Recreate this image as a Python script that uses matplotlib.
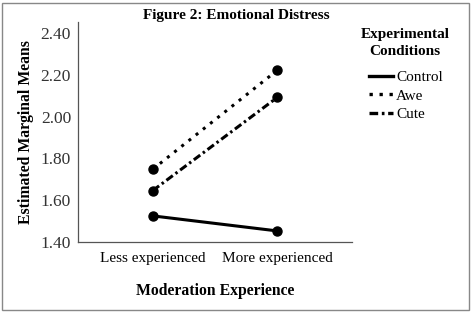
"""Emotional distress interaction plot (estimated marginal means)."""

import matplotlib

matplotlib.use("Agg")
import matplotlib.pyplot as plt
from matplotlib.lines import Line2D
from matplotlib.patches import Rectangle

experience = ["Less experienced", "More experienced"]
control = [1.525, 1.453]
awe = [1.748, 2.222]
cute = [1.646, 2.092]
y_ticks = [1.40, 1.60, 1.80, 2.00, 2.20, 2.40]

plt.rcParams["font.family"] = ["Liberation Serif", "DejaVu Serif"]

fig = plt.figure(figsize=(4.72, 3.12), dpi=100)
ax = fig.add_axes([78 / 472, (312 - 242) / 312, 274 / 472, 220 / 312])

x = list(range(len(experience)))
styles = [
    ("Control", control, "-"),
    ("Awe", awe, (0, (1, 2))),
    ("Cute", cute, (0, (2.6, 1.1, 0.8, 1.1))),
]
handles = []
for name, vals, ls in styles:
    ax.plot(x, vals, color="black", linestyle=ls, linewidth=2.2,
            marker="o", markersize=6.5)
    handles.append(Line2D([0], [0], color="black", linestyle=ls,
                          linewidth=2.4, label=name))

ax.set_xlim(-0.6, 1.6)
ax.set_ylim(1.40, 2.453)
ax.set_xticks(x)
ax.set_xticklabels(experience, fontsize=11)
ax.set_yticks(y_ticks)
ax.set_yticklabels([f"{v:.2f}" for v in y_ticks], fontsize=12.5, color="#333333")
ax.tick_params(length=0, pad=5)
ax.tick_params(axis="x", pad=7)
for side in ("top", "right"):
    ax.spines[side].set_visible(False)
for side in ("left", "bottom"):
    ax.spines[side].set_color("#555555")
    ax.spines[side].set_linewidth(0.9)

ax.set_ylabel("Estimated Marginal Means", fontsize=11.3, fontweight="bold",
              labelpad=5)
ax.set_xlabel("Moderation Experience", fontsize=11.3, fontweight="bold",
              labelpad=13)
fig.text(236 / 472, 1 - 15 / 312, "Figure 2: Emotional Distress",
         ha="center", va="center", fontsize=11, fontweight="bold")

fig.text(405 / 472, 1 - 43 / 312, "Experimental\nConditions",
         ha="center", va="center", fontsize=11, fontweight="bold",
         linespacing=1.4)
fig.legend(handles=handles, loc="upper left",
           bbox_to_anchor=(358 / 472, 1 - 60 / 312),
           frameon=False, fontsize=11, handlelength=1.6,
           handletextpad=0.2, labelspacing=0.3, borderpad=0.2)

fig.patches.append(Rectangle((2 / 472, 2 / 312), 467 / 472, 307 / 312,
                             transform=fig.transFigure, fill=False,
                             edgecolor="#888888", linewidth=1))

fig.savefig("out.png", dpi=100)
